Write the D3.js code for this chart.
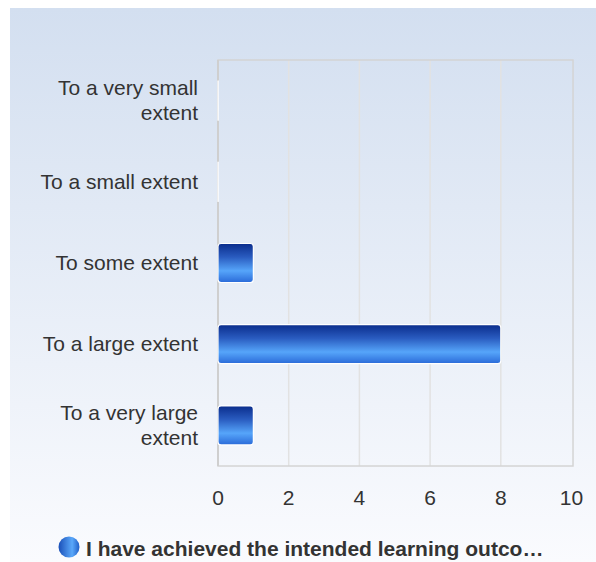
<!DOCTYPE html>
<html>
<head>
<meta charset="utf-8">
<script src="https://cdnjs.cloudflare.com/ajax/libs/d3/7.8.5/d3.min.js"></script>
<style>
  body { margin: 0; background: #fff; }
  svg text { font-family: "Liberation Sans", Arial, sans-serif; fill: #333; }
</style>
</head>
<body>
<svg id="chart" width="596" height="562"></svg>
<script>
// данные
var categories = [
    ["To a very small", "extent"],
    ["To a small extent"],
    ["To some extent"],
    ["To a large extent"],
    ["To a very large", "extent"]
];
var values = [0, 0, 1, 8, 1];
var xTicks = [0, 2, 4, 6, 8, 10];
var seriesName = "I have achieved the intended learning outco\u2026";

var svg = d3.select("#chart");
var defs = svg.append("defs");

var bg = defs.append("linearGradient").attr("id", "bg")
    .attr("x1", 0).attr("y1", 0).attr("x2", 0).attr("y2", 1);
bg.append("stop").attr("offset", "0%").attr("stop-color", "#d3dff0");
bg.append("stop").attr("offset", "100%").attr("stop-color", "#fafbfe");

var barGrad = defs.append("linearGradient").attr("id", "bar")
    .attr("x1", 0).attr("y1", 0).attr("x2", 0).attr("y2", 1);
barGrad.append("stop").attr("offset", "0%").attr("stop-color", "#0a2d8c");
barGrad.append("stop").attr("offset", "35%").attr("stop-color", "#2a5cc0");
barGrad.append("stop").attr("offset", "70%").attr("stop-color", "#56a5fa");
barGrad.append("stop").attr("offset", "100%").attr("stop-color", "#2a6ad8");

var dotGrad = defs.append("linearGradient").attr("id", "dot")
    .attr("x1", 0).attr("y1", 0).attr("x2", 1).attr("y2", 0);
dotGrad.append("stop").attr("offset", "0%").attr("stop-color", "#1a4fb8");
dotGrad.append("stop").attr("offset", "65%").attr("stop-color", "#5aa8fa");
dotGrad.append("stop").attr("offset", "100%").attr("stop-color", "#1f5fc8");

svg.append("rect")
    .attr("x", 10).attr("y", 8).attr("width", 586).attr("height", 554)
    .attr("fill", "url(#bg)");

var margin = { left: 218, top: 60, right: 573, bottom: 466 };

var x = d3.scaleLinear().domain([0, 10]).range([margin.left, 571.5]);
var y = d3.scaleBand()
    .domain(d3.range(categories.length))
    .range([margin.top, margin.bottom])
    .paddingInner(0.52).paddingOuter(0.26);

// сетка
svg.append("g").selectAll("line")
    .data(xTicks.slice(1, -1))
    .enter().append("line")
    .attr("x1", function(d) { return x(d); })
    .attr("x2", function(d) { return x(d); })
    .attr("y1", margin.top).attr("y2", margin.bottom)
    .attr("stroke", "#e2e2e2").attr("stroke-width", 1.5);

svg.append("rect")
    .attr("x", margin.left).attr("y", margin.top)
    .attr("width", margin.right - margin.left)
    .attr("height", margin.bottom - margin.top)
    .attr("fill", "none").attr("stroke", "#d4d4d4").attr("stroke-width", 1.5);

svg.append("line")
    .attr("x1", margin.left).attr("x2", margin.left)
    .attr("y1", margin.top).attr("y2", margin.bottom)
    .attr("stroke", "#cfcfcf").attr("stroke-width", 2);

// бары (нулевые тоже рисуем — видна белая черта)
svg.append("g").selectAll("rect")
    .data(values)
    .enter().append("rect")
    .attr("x", x(0))
    .attr("y", function(d, i) { return y(i); })
    .attr("width", function(d) { return Math.max(x(d) - x(0), 0.3); })
    .attr("height", y.bandwidth())
    .attr("rx", function(d) { return d ? 3 : 0; })
    .attr("fill", "url(#bar)")
    .attr("stroke", "#fff").attr("stroke-width", 1.2);

// подписи категорий
var lab = svg.append("g").selectAll("text")
    .data(categories)
    .enter().append("text")
    .attr("text-anchor", "end")
    .attr("font-size", 21)
    .attr("y", function(d, i) { return y(i) + y.bandwidth() / 2 - (d.length - 1) * 12.5 + 7; });
lab.selectAll("tspan")
    .data(function(d) { return d; })
    .enter().append("tspan")
    .attr("x", 198)
    .attr("dy", function(d, i) { return i ? 25 : 0; })
    .text(function(d) { return d; });

// ось X
svg.append("g").selectAll("text")
    .data(xTicks)
    .enter().append("text")
    .attr("x", function(d) { return x(d); })
    .attr("y", 505)
    .attr("text-anchor", "middle")
    .attr("font-size", 21)
    .text(function(d) { return d; });

// легенда
svg.append("circle")
    .attr("cx", 69).attr("cy", 547).attr("r", 10.5)
    .attr("fill", "url(#dot)");
svg.append("text")
    .attr("x", 86).attr("y", 556)
    .attr("font-size", 21).attr("font-weight", "bold")
    .text(seriesName);
</script>
</body>
</html>
